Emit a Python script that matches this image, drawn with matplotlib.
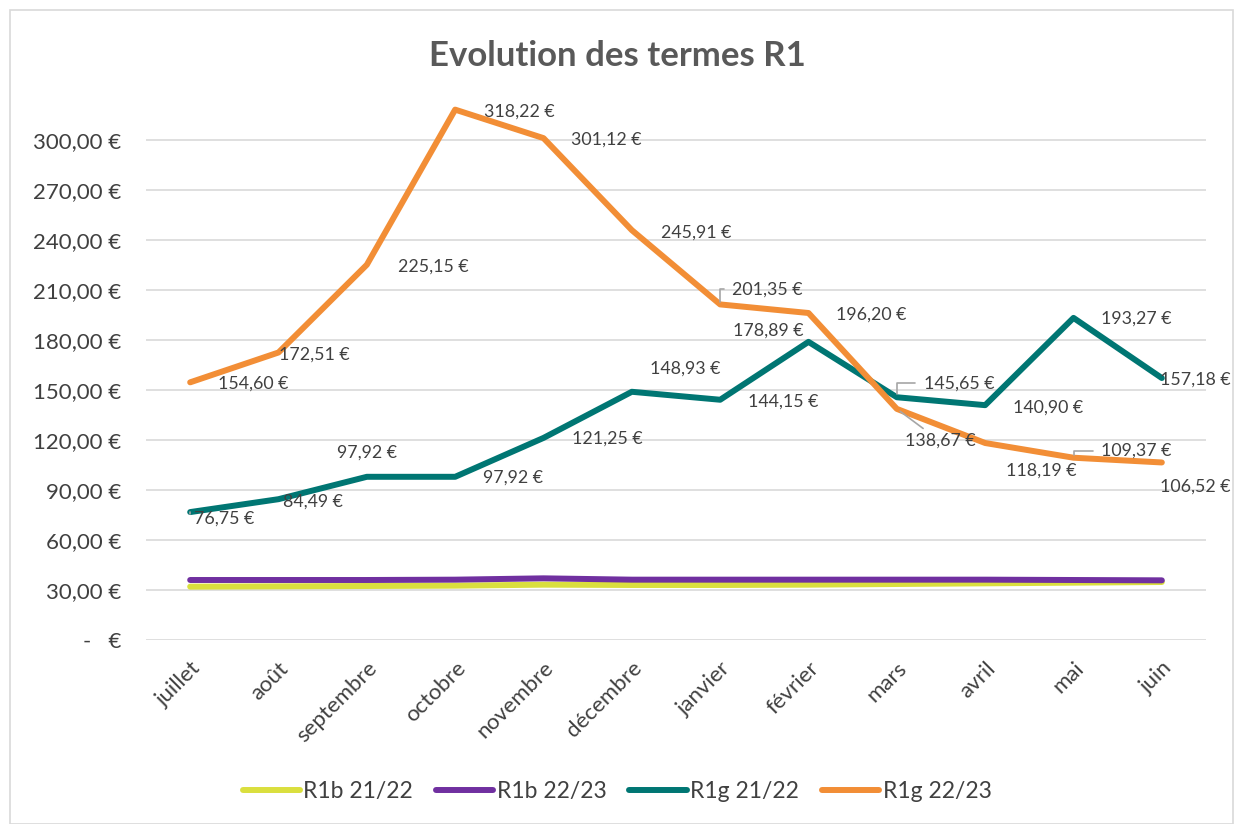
import matplotlib
matplotlib.use("Agg")
import matplotlib.pyplot as plt
from matplotlib.patches import Rectangle
from matplotlib.ticker import FuncFormatter

plt.rcParams["font.family"] = ["Lato", "DejaVu Sans"]

months = ["juillet", "août", "septembre", "octobre", "novembre", "décembre",
          "janvier", "février", "mars", "avril", "mai", "juin"]
r1b_2122 = [32.0, 32.2, 32.4, 32.6, 33.2, 33.0, 33.0, 33.2, 33.6, 34.0, 34.4, 34.8]
r1b_2223 = [36.0, 36.0, 36.0, 36.2, 37.0, 36.2, 36.2, 36.2, 36.2, 36.2, 36.0, 35.8]
r1g_2122 = [76.75, 84.49, 97.92, 97.92, 121.25, 148.93, 144.15, 178.89, 145.65, 140.90, 193.27, 157.18]
r1g_2223 = [154.60, 172.51, 225.15, 318.22, 301.12, 245.91, 201.35, 196.20, 138.67, 118.19, 109.37, 106.52]
series_names = ["R1b 21/22", "R1b 22/23", "R1g 21/22", "R1g 22/23"]
yticks = [0, 30, 60, 90, 120, 150, 180, 210, 240, 270, 300]

colors = ["#DADF3E", "#7030A0", "#007673", "#F28E36"]
TXT = "#404040"

# label offsets in pixels (dx, dy up-positive), leader style (0 none, 1 bracket, 2 straight)
off_orange = [(63, -1, 0), (36, -2, 0), (66, -2, 0), (64, -2, 0), (63, -1, 0), (64, -2, 0),
              (47, 15, 1), (63, -2, 0), (43, -32, 2), (56, -28, 0), (63, 7, 1), (33, -24, 0)]
off_teal = [(34, -7, 1), (34, -2, 0), (0, 24, 0), (58, -1, 0), (64, -1, 0), (53, 23, 0),
            (63, -2, 0), (-40, 11, 0), (62, 14, 1), (63, -2, 0), (63, -1, 0), (33, -2, 0)]

fig = plt.figure(figsize=(12.34, 8.24), dpi=100)
fig.patches.append(Rectangle((10/1234, 0), 1 - 10/1234 - 0.0005, 1 - 10/824,
                             transform=fig.transFigure, fill=False,
                             edgecolor="#D9D9D9", linewidth=1.2))
ax = fig.add_axes([146/1234, 184/824, 1060/1234, 550/824])
x = list(range(len(months)))
for data, c, name in zip([r1b_2122, r1b_2223, r1g_2122, r1g_2223], colors, series_names):
    ax.plot(x, data, color=c, linewidth=4.3, solid_capstyle="round",
            solid_joinstyle="round", label=name, zorder=3)

ax.set_xlim(-0.5, 11.5)
ax.set_ylim(0, 330)
ax.set_yticks(yticks)
ax.yaxis.grid(True, color="#D9D9D9", linewidth=1.2)
ax.set_axisbelow(True)
for s in ax.spines.values():
    s.set_visible(False)

def fmt(v, pos):
    if v == 0:
        return "-   €"
    return f"{v:,.2f} €".replace(",", " ").replace(".", ",")
ax.yaxis.set_major_formatter(FuncFormatter(fmt))
ax.tick_params(axis="y", length=0, pad=18, labelsize=16, labelcolor=TXT)
ax.set_xticks(x)
ax.set_xticklabels(months, rotation=45, ha="right", rotation_mode="anchor",
                   fontsize=16, color=TXT)
ax.tick_params(axis="x", length=0, pad=13)

def lab(v):
    return f"{v:.2f} €".replace(".", ",")

for data, offs in [(r1g_2223, off_orange), (r1g_2122, off_teal)]:
    for i, (v, (dx, dy, lead)) in enumerate(zip(data, offs)):
        kw = {}
        if lead == 1:
            kw["arrowprops"] = dict(arrowstyle="-", color="#A6A6A6", lw=1.2,
                                    shrinkA=4, shrinkB=2,
                                    connectionstyle="angle,angleA=0,angleB=90,rad=0")
        elif lead == 2:
            kw["arrowprops"] = dict(arrowstyle="-", color="#A6A6A6", lw=1.2,
                                    shrinkA=2, shrinkB=3)
        ax.annotate(lab(v), (i, v), xytext=(dx * 0.72, dy * 0.72),
                    textcoords="offset points", ha="center", va="center",
                    fontsize=12.8, color=TXT, zorder=5, **kw)

fig.text(0.5, 0.932, "Evolution des termes R1", ha="center", va="center",
         fontsize=25, fontweight="bold", color="#595959")

leg = fig.legend(loc="center", bbox_to_anchor=(0.5, 0.04), ncol=4, frameon=False,
                 fontsize=16.5, handlelength=2.5, handletextpad=0.15, columnspacing=1.0)
for t in leg.get_texts():
    t.set_color(TXT)

fig.savefig("out.png", dpi=100)
